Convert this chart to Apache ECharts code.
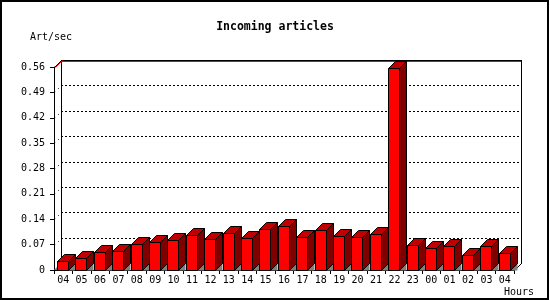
<!DOCTYPE html>
<html><head><meta charset="utf-8">
<script src="https://cdn.jsdelivr.net/npm/echarts@6/dist/echarts.min.js"></script>
<style>html,body{margin:0;padding:0;background:#fff}#c{width:550px;height:300px}</style>
</head><body><div id="c"></div>
<script>
const hours = ['04','05','06','07','08','09','10','11','12','13','14','15','16','17','18','19','20','21','22','23','00','01','02','03','04'];
const articlesPerSec = [0.024,0.032,0.049,0.052,0.071,0.076,0.083,0.096,0.085,0.101,0.087,0.112,0.121,0.090,0.109,0.093,0.090,0.098,0.556,0.068,0.060,0.065,0.041,0.065,0.046];
const yTicks = [0,0.07,0.14,0.21,0.28,0.35,0.42,0.49,0.56];
const titleText = 'Incoming articles';
const yName = 'Art/sec';
const xName = 'Hours';

const D = 7;
const MONO = "'DejaVu Sans Mono', 'Liberation Mono', monospace";
const yMin = yTicks[0], yMax = yTicks[yTicks.length-1], yStep = yTicks[1]-yTicks[0];

const chart = echarts.init(document.getElementById('c'), null, {renderer:'canvas'});

function ln(x1,y1,x2,y2,color,dash){
  return {type:'line', shape:{x1,y1,x2,y2}, style:{stroke:color, lineWidth:1, lineDash: dash||null}, silent:true};
}

function renderFrame(params, api){
  const bw = api.size([1,0])[0];
  const p0 = api.coord([0, yMin]);
  const xL = Math.round(p0[0]-bw/2);
  const xR = Math.round(api.coord([hours.length-1, yMin])[0] + bw/2);
  const yB = Math.round(p0[1]);
  const yT = Math.round(api.coord([0, yMax])[1]);
  const ch = [];
  yTicks.forEach(t => {
    if (t === yMin || t === yMax) return;
    const y = Math.round(api.coord([0,t])[1]);
    ch.push(ln(xL+D, y-D+0.5, xR+D, y-D+0.5, '#000', [2,2]));
    ch.push(ln(xL+0.5, y+0.5, xL+D+0.5, y-D+0.5, '#000', [1,4]));
  });
  ch.push(ln(xL+D+0.5, yT-D, xL+D+0.5, yB-D, '#000'));
  ch.push(ln(xR+D+0.5, yT-D, xR+D+0.5, yB-D+1, '#000'));
  ch.push(ln(xL+D, yT-D+0.5, xR+D+1, yT-D+0.5, '#000'));
  ch.push(ln(xL+D, yT-D+1.5, xR+D, yT-D+1.5, '#ff0000'));
  ch.push(ln(xL+0.5, yT+0.5, xL+D+0.5, yT-D+0.5, '#000'));
  ch.push(ln(xL+1.5, yT+0.5, xL+D+1.5, yT-D+0.5, '#ff0000'));
  ch.push(ln(xR+0.5, yB+0.5, xR+D+0.5, yB-D+0.5, '#000'));
  ch.push({type:'polygon', shape:{points:[[xL,yB],[xL+D,yB-D],[xL+D,yB]]}, style:{fill:'#808080'}, silent:true});
  return {type:'group', children: ch};
}

function renderBar(params, api){
  const i = api.value(0), v = api.value(1);
  const bw = api.size([1,0])[0];
  const top = api.coord([i, v]);
  const base = api.coord([i, yMin]);
  const x0 = Math.round(top[0] - bw/2 + 3) + 0.5;
  const x1 = x0 + 11;
  const yT = Math.round(top[1]) + 0.5;
  const yB = Math.round(base[1]) + 0.5;
  const st = {stroke:'#000', lineWidth:1};
  return {type:'group', children:[
    {type:'polygon', shape:{points:[[x1,yB],[x1+D,yB-D],[x1+D,yB]]}, style:{fill:'#808080'}},
    {type:'polygon', shape:{points:[[x1,yT],[x1+D,yT-D],[x1+D,yB-D],[x1,yB]]}, style:Object.assign({fill:'#800000'},st)},
    {type:'polygon', shape:{points:[[x0,yT],[x0+D,yT-D],[x1+D,yT-D],[x1,yT]]}, style:Object.assign({fill:'#c00000'},st)},
    {type:'rect', shape:{x:x0, y:yT, width:x1-x0, height:yB-yT}, style:Object.assign({fill:'#ff0000'},st)}
  ]};
}

chart.setOption({
  animation:false,
  backgroundColor:'#fff',
  grid:{left:54, right:36, top:67, bottom:30, containLabel:false},
  xAxis:{
    type:'category', data:hours, boundaryGap:true,
    axisLine:{lineStyle:{color:'#000', width:1}},
    axisTick:{show:true, length:4, inside:false, lineStyle:{color:'#000'}},
    axisLabel:{interval:0, margin:5, color:'#000', fontFamily:MONO, fontSize:10},
    splitLine:{show:false}
  },
  yAxis:{
    type:'value', min:yMin, max:yMax, interval:yStep,
    axisLine:{show:true, lineStyle:{color:'#000', width:1}},
    axisTick:{show:true, length:4, lineStyle:{color:'#000'}},
    axisLabel:{margin:9, color:'#000', fontFamily:MONO, fontSize:10,
      formatter: v => { const k = yTicks.findIndex(t => Math.abs(t-v) < 1e-9); const t = k>=0 ? yTicks[k] : v; return t === 0 ? '0' : t.toFixed(2); }},
    splitLine:{show:false}
  },
  graphic:[
    {type:'text', left:'center', top:21, style:{text:titleText, font:"bold 11.5px "+MONO, fill:'#000'}},
    {type:'text', left:30, top:32, style:{text:yName, font:"10px "+MONO, fill:'#000'}},
    {type:'text', left:504, top:287, style:{text:xName, font:"10px "+MONO, fill:'#000'}},
    {type:'rect', shape:{x:1, y:1, width:547, height:298}, style:{fill:null, stroke:'#000', lineWidth:2}, z:100}
  ],
  series:[
    {type:'custom', z:1, renderItem:renderFrame, data:[[0,0]], clip:false, silent:true},
    {type:'custom', z:3, renderItem:renderBar, data: articlesPerSec.map((v,i)=>[i,v]), encode:{x:0,y:1}, clip:false, silent:true}
  ]
});
</script></body></html>
